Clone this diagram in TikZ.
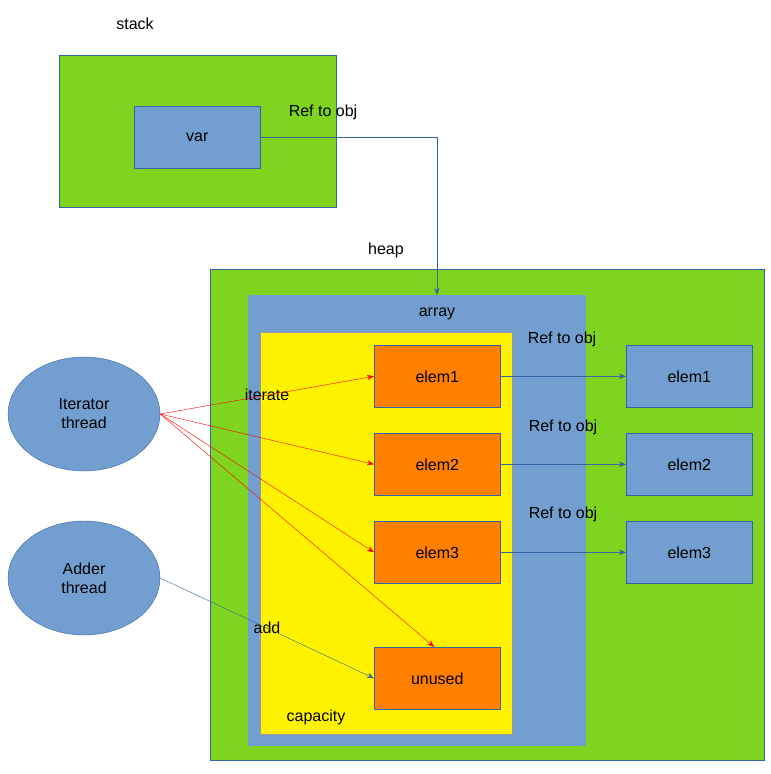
\documentclass[tikz,border=0pt]{standalone}
\usepackage{fontspec}
\setmainfont{Liberation Sans}
\usetikzlibrary{arrows.meta,positioning,calc,shapes.geometric}
\definecolor{grn}{HTML}{7FD41F}
\definecolor{blu}{HTML}{729FCF}
\definecolor{org}{HTML}{FF7F00}
\definecolor{edg}{HTML}{3465A4}
\begin{document}
\begin{tikzpicture}[x=1pt,y=-1pt,
    every node/.style={font=\fontsize{16}{19}\selectfont},
    area/.style={draw=edg,fill=grn,line width=0.6pt},
    box/.style={draw=edg,line width=0.6pt,minimum width=126pt,minimum height=62pt,anchor=north west},
    elem/.style={box,fill=org},
    obj/.style={box,fill=blu},
    thread/.style={ellipse,draw=edg,fill=blu,minimum width=152pt,minimum height=114pt,align=center},
    redarr/.style={red,-{Stealth[length=7pt]}},
    bluarr/.style={edg,-{Stealth[length=7pt]}}]
  \useasboundingbox (0,0) rectangle (771,774);
  % stack
  \draw[area] (59,55) rectangle (336,207);
  \node at (135,24) {stack};
  \node[obj,fill=blu] (var) at (134,106) {var};
  \node at (323,112) {Ref to obj};
  % heap
  \draw[area] (210,269) rectangle (764,760);
  \node at (386,250) {heap};
  \fill[blu] (248,295) rectangle (586,746);
  \node (array) at (437,314) {array};
  \draw[black!40,fill=yellow] (260,332) rectangle (512,734);
  \node at (316,717) {capacity};
  \node[elem] (e1) at (374,345) {elem1};
  \node[elem] (e2) at (374,433) {elem2};
  \node[elem] (e3) at (374,521) {elem3};
  \node[elem] (un) at (374,647) {unused};
  \node[obj] (o1) at (626,345) {elem1};
  \node[obj] (o2) at (626,433) {elem2};
  \node[obj] (o3) at (626,521) {elem3};
  \node at (562,339) {Ref to obj};
  \node at (563,427) {Ref to obj};
  \node at (563,514) {Ref to obj};
  \coordinate (atop) at (437,295);
  \draw[bluarr] (var.east) -| (atop);
  \foreach \a/\b in {e1/o1,e2/o2,e3/o3}
    \draw[bluarr] (\a.east) -- (\b.west);
  % threads
  \node[thread] (it) at (84,414) {Iterator\\thread};
  \node[thread] (ad) at (84,578) {Adder\\thread};
  \node at (267,395) {iterate};
  \node at (267,628) {add};
  \foreach \t in {e1,e2,e3}
    \draw[redarr] (it.east) -- (\t.west);
  \draw[redarr] (it.east) -- ($(un.north)+(-3,0)$);
  \draw[bluarr] (ad.east) -- (un.west);
\end{tikzpicture}
\end{document}
